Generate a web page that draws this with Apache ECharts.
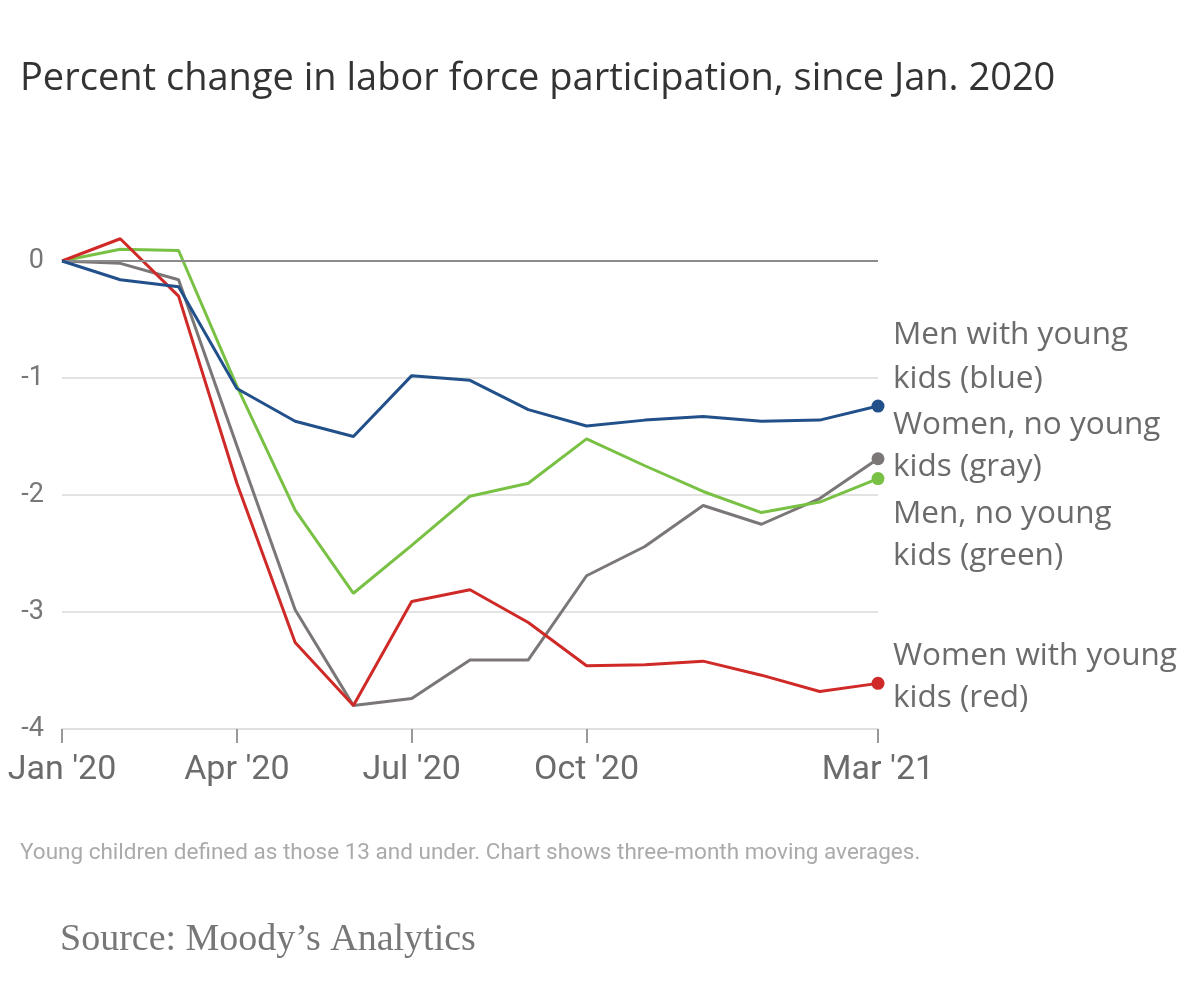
<!DOCTYPE html>
<html>
<head>
<meta charset="utf-8">
<script src="https://cdn.jsdelivr.net/npm/echarts@6/dist/echarts.min.js"></script>
<style>
html,body{margin:0;padding:0;background:#fff;}
#chart{width:1200px;height:989px;}
</style>
</head>
<body>
<div id="chart"></div>
<script>
const months = ["Jan '20","Feb '20","Mar '20","Apr '20","May '20","Jun '20","Jul '20","Aug '20","Sep '20","Oct '20","Nov '20","Dec '20","Jan '21","Feb '21","Mar '21"];
const labeledMonths = ["Jan '20","Apr '20","Jul '20","Oct '20","Mar '21"];
const menYoungKids = [0, -0.16, -0.22, -1.09, -1.37, -1.50, -0.98, -1.02, -1.27, -1.41, -1.36, -1.33, -1.37, -1.36, -1.24];
const menNoYoungKids = [0, 0.10, 0.09, -1.07, -2.13, -2.84, -2.43, -2.01, -1.90, -1.52, -1.75, -1.97, -2.15, -2.06, -1.86];
const womenNoYoungKids = [0, -0.02, -0.16, -1.58, -2.98, -3.80, -3.74, -3.41, -3.41, -2.69, -2.44, -2.09, -2.25, -2.03, -1.69];
const womenYoungKids = [0, 0.19, -0.30, -1.90, -3.26, -3.80, -2.91, -2.81, -3.09, -3.46, -3.45, -3.42, -3.54, -3.68, -3.61];
const seriesLabels = ["Men with young\nkids (blue)", "Women, no young\nkids (gray)", "Men, no young\nkids (green)", "Women with young\nkids (red)"];
const titleText = "Percent change in labor force participation, since Jan. 2020";
const noteText = "Young children defined as those 13 and under. Chart shows three-month moving averages.";
const sourceText = "Source: Moody\u2019s Analytics";

const FONT = 'Roboto, "Noto Sans", sans-serif';
const FONT2 = '"Open Sans", Roboto, sans-serif';
const lastIdx = months.length - 1;
function mkSeries(name, data, color, extra) {
  return Object.assign({
    name: name,
    type: 'line',
    data: data,
    clip: false,
    smooth: false,
    showSymbol: true,
    symbol: 'circle',
    symbolSize: function (v, p) { return p.dataIndex === lastIdx ? 13 : 0; },
    lineStyle: { color: color, width: 3 },
    itemStyle: { color: color },
    emphasis: { disabled: true },
    animation: false
  }, extra || {});
}

const chart = echarts.init(document.getElementById('chart'));
chart.setOption({
  backgroundColor: '#fff',
  animation: false,
  grid: { left: 62, right: 322, top: 261, bottom: 260 },
  xAxis: {
    type: 'category',
    data: months,
    boundaryGap: false,
    axisLine: { show: true, onZero: false, lineStyle: { color: '#e0e0e0', width: 2 } },
    axisTick: {
      show: true, length: 14,
      interval: function (i, v) { return labeledMonths.indexOf(v) >= 0; },
      lineStyle: { color: '#999', width: 2 }
    },
    axisLabel: {
      interval: function (i, v) { return labeledMonths.indexOf(v) >= 0; },
      fontFamily: FONT, fontSize: 34, color: '#6b6b6b', margin: 24
    },
    splitLine: { show: false }
  },
  yAxis: {
    type: 'value',
    min: -4, max: 0, interval: 1,
    axisLine: { show: false },
    axisTick: { show: false },
    axisLabel: { fontFamily: FONT, fontSize: 27, color: '#777', margin: 18 },
    splitLine: { show: true, lineStyle: { color: '#e3e3e3', width: 2 } }
  },
  series: [
    mkSeries('Women, no young kids', womenNoYoungKids, '#7a7776', {
      markLine: {
        silent: true, symbol: 'none', label: { show: false },
        lineStyle: { color: '#8c8c8c', width: 2, type: 'solid' },
        data: [{ yAxis: 0 }],
        animation: false
      },
      z: 2
    }),
    mkSeries('Men, no young kids', menNoYoungKids, '#79c144', { z: 3 }),
    mkSeries('Women with young kids', womenYoungKids, '#cf2a27', { z: 4 }),
    mkSeries('Men with young kids', menYoungKids, '#22508a', { z: 5 })
  ],
  graphic: [
    { type: 'text', x: 20, y: 79, style: { text: titleText, font: '38px ' + FONT2, fill: '#333', verticalAlign: 'middle' } },
    { type: 'text', x: 893, y: 357, style: { text: seriesLabels[0], font: '31.5px ' + FONT2, fill: '#6b6b6b', verticalAlign: 'middle', lineHeight: 44 } },
    { type: 'text', x: 893, y: 446, style: { text: seriesLabels[1], font: '31.5px ' + FONT2, fill: '#6b6b6b', verticalAlign: 'middle', lineHeight: 42 } },
    { type: 'text', x: 893, y: 535, style: { text: seriesLabels[2], font: '31.5px ' + FONT2, fill: '#6b6b6b', verticalAlign: 'middle', lineHeight: 42 } },
    { type: 'text', x: 893, y: 677, style: { text: seriesLabels[3], font: '31.5px ' + FONT2, fill: '#6b6b6b', verticalAlign: 'middle', lineHeight: 42 } },
    { type: 'text', x: 20, y: 853, style: { text: noteText, font: '22.5px ' + FONT, fill: '#aaa', verticalAlign: 'middle' } },
    { type: 'text', x: 60, y: 940, style: { text: sourceText, font: '38px "Liberation Serif", "DejaVu Serif", serif', fill: '#777', verticalAlign: 'middle' } }
  ]
});
</script>
</body>
</html>
